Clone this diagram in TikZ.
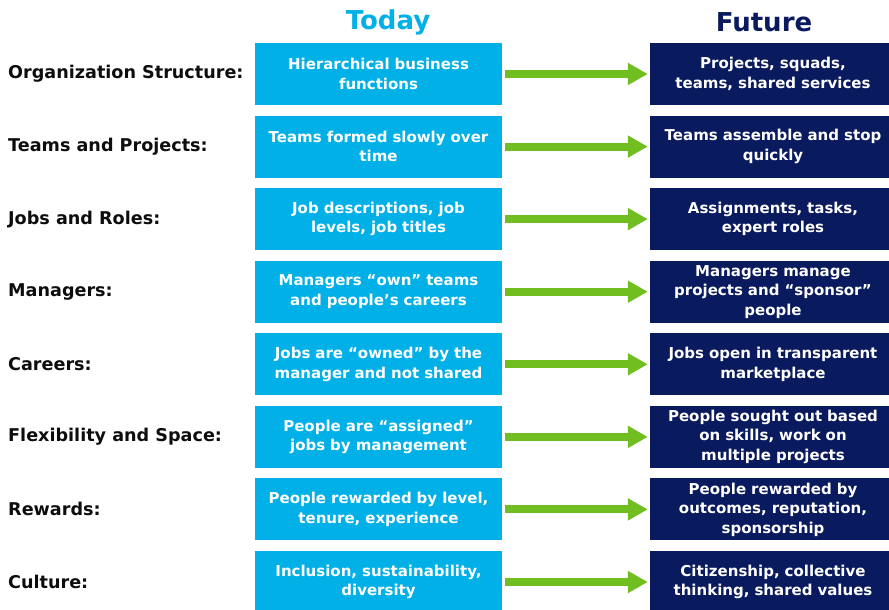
\documentclass[tikz,border=0pt]{standalone}
\usepackage{fontspec}
\setmainfont{DejaVu Sans}
\usetikzlibrary{positioning, arrows.meta}
\definecolor{todayblue}{RGB}{0,176,230}
\definecolor{futureblue}{RGB}{10,26,94}
\definecolor{shiftgreen}{RGB}{112,190,32}
\tikzset{
    heading/.style = {font=\fontsize{26}{30}\selectfont\bfseries},
    rowlabel/.style = {anchor=west, inner sep=0pt, text=black!95,
                        font=\fontsize{17.6}{20}\selectfont\bfseries},
    today/.style = {rectangle, fill=todayblue, text=white, inner sep=0pt,
                        minimum width=247pt, minimum height=62pt, text width=240pt,
                        align=center, font=\fontsize{15}{19.5}\selectfont\bfseries},
    future/.style = {today, fill=futureblue, minimum width=246pt},
    change/.style = {draw=shiftgreen, line width=8pt, shorten <=3pt, shorten >=2pt,
                        -{Triangle[length=20pt, width=21pt]}}
}
\begin{document}
\begin{tikzpicture}[x=1pt, y=-1pt]
		\clip (0,0) rectangle (889,610);
		\node (today) [heading, text=todayblue] at (388,22) {Today};
		\node (future) [heading, text=futureblue] at (764,22) {Future};
		% row 1
		\node (l1) [rowlabel] at (8,74) {Organization Structure:};
		\node (t1) [today] at (378.5,74) {Hierarchical business\\functions};
		\node (f1) [future] at (773,74) {Projects, squads,\\teams, shared services};
		\draw [change] (t1.east) -- (f1.west);
		% row 2
		\node (l2) [rowlabel] at (8,146.6) {Teams and Projects:};
		\node (t2) [today] at (378.5,146.6) {Teams formed slowly over\\time};
		\node (f2) [future] at (773,146.6) {Teams assemble and stop\\quickly};
		\draw [change] (t2.east) -- (f2.west);
		% row 3
		\node (l3) [rowlabel] at (8,219.1) {Jobs and Roles:};
		\node (t3) [today] at (378.5,219.1) {Job descriptions, job\\levels, job titles};
		\node (f3) [future] at (773,219.1) {Assignments, tasks,\\expert roles};
		\draw [change] (t3.east) -- (f3.west);
		% row 4
		\node (l4) [rowlabel] at (8,291.7) {Managers:};
		\node (t4) [today] at (378.5,291.7) {Managers “own” teams\\and people’s careers};
		\node (f4) [future] at (773,291.7) {Managers manage\\projects and “sponsor”\\people};
		\draw [change] (t4.east) -- (f4.west);
		% row 5
		\node (l5) [rowlabel] at (8,364.3) {Careers:};
		\node (t5) [today] at (378.5,364.3) {Jobs are “owned” by the\\manager and not shared};
		\node (f5) [future] at (773,364.3) {Jobs open in transparent\\marketplace};
		\draw [change] (t5.east) -- (f5.west);
		% row 6
		\node (l6) [rowlabel] at (8,436.9) {Flexibility and Space:};
		\node (t6) [today] at (378.5,436.9) {People are “assigned”\\jobs by management};
		\node (f6) [future] at (773,436.9) {People sought out based\\on skills, work on\\multiple projects};
		\draw [change] (t6.east) -- (f6.west);
		% row 7
		\node (l7) [rowlabel] at (8,509.4) {Rewards:};
		\node (t7) [today] at (378.5,509.4) {People rewarded by level,\\tenure, experience};
		\node (f7) [future] at (773,509.4) {People rewarded by\\outcomes, reputation,\\sponsorship};
		\draw [change] (t7.east) -- (f7.west);
		% row 8
		\node (l8) [rowlabel] at (8,582) {Culture:};
		\node (t8) [today] at (378.5,582) {Inclusion, sustainability,\\diversity};
		\node (f8) [future] at (773,582) {Citizenship, collective\\thinking, shared values};
		\draw [change] (t8.east) -- (f8.west);
	\end{tikzpicture}
\end{document}
